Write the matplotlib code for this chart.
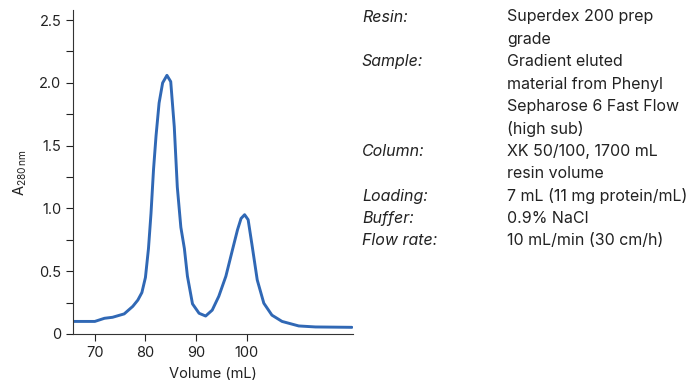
import matplotlib.pyplot as plt

plt.rcParams['font.family'] = ['Inter', 'DejaVu Sans']

# chromatogram
volume = [65.7, 70.0, 71.9, 73.5, 75.8, 77.5, 78.5, 79.3, 80.0, 80.6, 81.1, 81.6,
          82.1, 82.7, 83.4, 84.25, 85.0, 85.7, 86.3, 87.0, 87.7, 88.3, 89.3, 90.6,
          91.9, 93.2, 94.5, 95.9, 97.2, 98.2, 98.9, 99.6, 100.3, 101.1, 102.1,
          103.4, 105.0, 107.0, 110.3, 113.6, 120.8]
absorbance = [0.10, 0.10, 0.125, 0.133, 0.16, 0.22, 0.27, 0.33, 0.45, 0.68, 0.96, 1.31,
              1.58, 1.84, 2.00, 2.06, 2.01, 1.65, 1.17, 0.85, 0.68, 0.46, 0.24, 0.165,
              0.143, 0.19, 0.30, 0.46, 0.67, 0.83, 0.92, 0.95, 0.91, 0.70, 0.43,
              0.245, 0.15, 0.10, 0.064, 0.056, 0.053]

x_ticks = [70, 80, 90, 100]
y_ticks = [0, 0.5, 1.0, 1.5, 2.0, 2.5]
y_tick_labels = ['0', '0.5', '1.0', '1.5', '2.0', '2.5']
y_minor = [0.25, 0.75, 1.25, 1.75, 2.25]

# conditions table: (label, wrapped value lines)
conditions = [
    ('Resin:', ['Superdex 200 prep', 'grade']),
    ('Sample:', ['Gradient eluted', 'material from Phenyl',
                 'Sepharose 6 Fast Flow', '(high sub)']),
    ('Column:', ['XK 50/100, 1700 mL', 'resin volume']),
    ('Loading:', ['7 mL (11 mg protein/mL)']),
    ('Buffer:', ['0.9% NaCl']),
    ('Flow rate:', ['10 mL/min (30 cm/h)']),
]

text_col = '#222222'
fig = plt.figure(figsize=(6.96, 3.82), dpi=100)
ax = fig.add_axes([0.105, 0.1257, 0.402, 0.848])

ax.plot(volume, absorbance, color='#3068b5', lw=2.1,
        solid_capstyle='round', solid_joinstyle='round')

ax.set_xlim(65.7, 121)
ax.set_ylim(0, 2.58)
ax.set_xticks(x_ticks)
ax.set_yticks(y_ticks)
ax.set_yticklabels(y_tick_labels)
ax.set_yticks(y_minor, minor=True)
ax.tick_params(axis='both', which='both', direction='out', colors=text_col,
               labelsize=10.5, width=0.8)
ax.tick_params(which='major', length=5)
ax.tick_params(which='minor', length=5)
for s in ['top', 'right']:
    ax.spines[s].set_visible(False)
for s in ['left', 'bottom']:
    ax.spines[s].set_color('#333333')
    ax.spines[s].set_linewidth(0.8)

ax.set_xlabel('Volume (mL)', fontsize=10.5, color=text_col, labelpad=5)
ax.set_ylabel(r'A$_{\mathregular{280\,nm}}$', fontsize=10.5, color=text_col, labelpad=7)

# right-hand conditions text
line_h = 22.4 / 382
y = 1 - 17 / 382
for label, lines in conditions:
    fig.text(362 / 696, y, label, fontsize=11.5, style='italic', color=text_col,
             va='center', ha='left')
    for ln in lines:
        fig.text(507 / 696, y, ln, fontsize=11.5, color=text_col,
                 va='center', ha='left')
        y -= line_h

fig.savefig('out.png', dpi=100)
